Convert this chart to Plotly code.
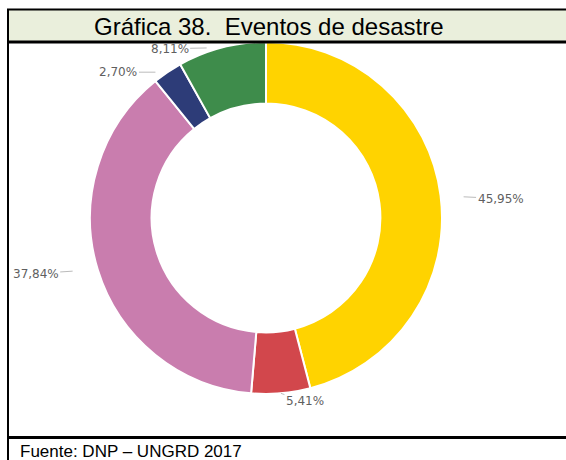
import math
import plotly.graph_objects as go

# Disaster events by type (counts) and slice colours, clockwise from 12 o'clock
categories = ["Tipo A", "Tipo B", "Tipo C", "Tipo D", "Tipo E"]
counts = [17, 2, 14, 1, 3]
colors = ["#FFD300", "#D2474C", "#C97DAE", "#2D3C78", "#3E8C4B"]

title_text = "Gráfica 38.  Eventos de desastre"
source_text = "Fuente: DNP – UNGRD 2017"

W, H = 566, 460
cx, cy, r = 266, 218, 176  # donut centre and radius in pixels
hole = 0.65

fig = go.Figure(
    go.Pie(
        labels=categories,
        values=counts,
        sort=False,
        direction="clockwise",
        rotation=0,
        hole=hole,
        marker=dict(colors=colors, line=dict(color="white", width=2)),
        textposition="none",
        domain=dict(
            x=[(cx - r) / W, (cx + r) / W],
            y=[1 - (cy + r) / H, 1 - (cy - r) / H],
        ),
        showlegend=False,
    )
)

# Percentage labels with short gray leader lines, anchored on each slice's mid-angle
label_offsets = [(60, 3), (24, 8), (-62, 4), (-49, 0), (-52, 1)]
annotations = []
total = sum(counts)
cum = 0
for v, (ax, ay) in zip(counts, label_offsets):
    mid = (cum + v / 2) / total * 2 * math.pi
    cum += v
    ex = cx + r * math.sin(mid)
    ey = cy - r * math.cos(mid)
    pct = v / total * 100
    label = f"{pct:.2f}%".replace(".", ",")
    dist = math.hypot(ax, ay)
    standoff = max(0, dist - 27 - 10)
    annotations.append(
        dict(
            text=label, xref="paper", yref="paper", x=ex / W, y=1 - ey / H,
            ax=ax, ay=ay, showarrow=True, arrowhead=0, arrowwidth=1,
            arrowcolor="#BBBBBB", standoff=standoff,
            font=dict(family="DejaVu Sans", size=12, color="#5F5F5F"),
        )
    )

shapes = [
    # title cell background
    dict(type="rect", xref="paper", yref="paper", x0=7 / W, x1=1.0,
         y0=1 - 42 / H, y1=1 - 9 / H, fillcolor="#EAEFDC", line_width=0, layer="above"),
    # top border
    dict(type="line", xref="paper", yref="paper", x0=7 / W, x1=1.0,
         y0=1 - 9.5 / H, y1=1 - 9.5 / H, line=dict(color="black", width=2)),
    # title cell bottom border
    dict(type="line", xref="paper", yref="paper", x0=7 / W, x1=1.0,
         y0=1 - 42 / H, y1=1 - 42 / H, line=dict(color="black", width=3)),
    # chart cell bottom border
    dict(type="line", xref="paper", yref="paper", x0=7 / W, x1=1.0,
         y0=1 - 437.5 / H, y1=1 - 437.5 / H, line=dict(color="black", width=3)),
    # left border
    dict(type="line", xref="paper", yref="paper", x0=8 / W, x1=8 / W,
         y0=0, y1=1 - 9 / H, line=dict(color="black", width=2)),
]

annotations += [
    dict(text=title_text, xref="paper", yref="paper", x=269 / W, y=1 - 26 / H,
         xanchor="center", yanchor="middle", showarrow=False,
         font=dict(family="Liberation Sans, Arial", size=24, color="black")),
    dict(text=source_text, xref="paper", yref="paper", x=18 / W, y=1 - 451 / H,
         xanchor="left", yanchor="middle", showarrow=False,
         font=dict(family="Liberation Sans, Arial", size=17, color="black")),
]

fig.update_layout(
    width=W,
    height=H,
    margin=dict(l=0, r=0, t=0, b=0),
    paper_bgcolor="white",
    plot_bgcolor="white",
    separators=",.",
    shapes=shapes,
    annotations=annotations,
)

fig.write_html("out.html")
